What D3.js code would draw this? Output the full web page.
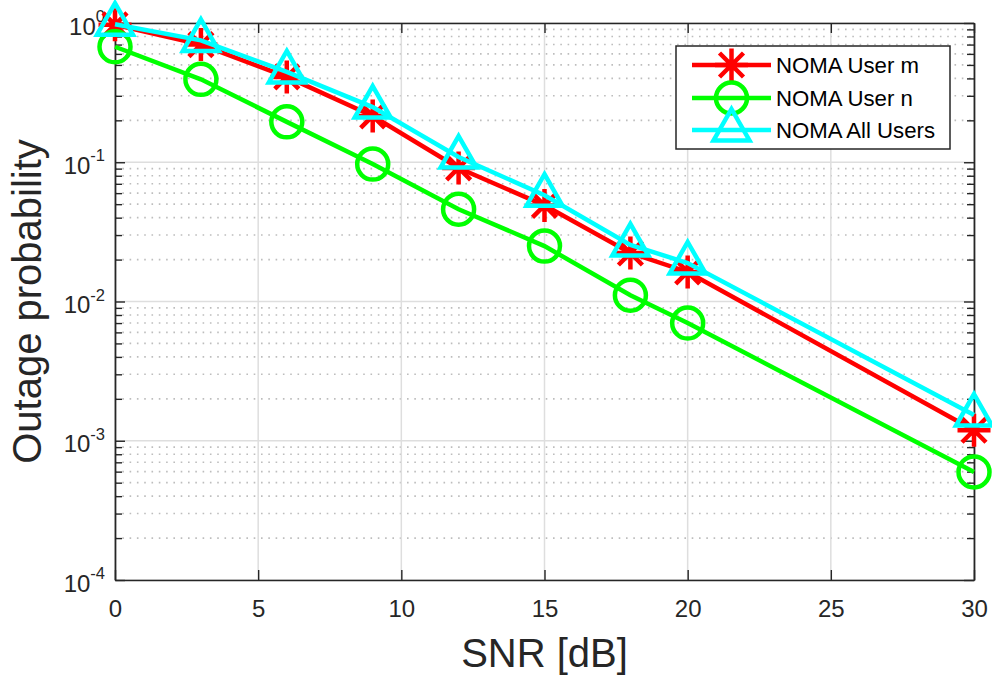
<!DOCTYPE html>
<html>
<head>
<meta charset="utf-8">
<script src="https://cdn.jsdelivr.net/npm/d3@7"></script>
<style>
  body { margin: 0; background: #fff; }
  svg { display: block; font-family: "Liberation Sans", Arial, sans-serif; }
</style>
</head>
<body>
<svg width="992" height="677"></svg>
<script>
var screen = {width: 992, height: 677}
var margin = {top: 23, right: 18, bottom: 97, left: 115};

// data
var snr = [0, 3, 6, 9, 12, 15, 18, 20, 30]
var userM = [0.97, 0.70, 0.41, 0.215, 0.091, 0.049, 0.0223, 0.0163, 0.00119]
var userN = [0.675, 0.394, 0.195, 0.097, 0.046, 0.025, 0.0111, 0.0070, 0.000597]
var allUsers = [0.98, 0.75, 0.445, 0.249, 0.109, 0.058, 0.0255, 0.0189, 0.00153]

var seriesNames = ["NOMA User m", "NOMA User n", "NOMA All Users"]
var seriesColors = ["#ff0000", "#00ff00", "#00ffff"]
var seriesMarkers = ["star", "circle", "triangle"]

var xTicks = [0, 5, 10, 15, 20, 25, 30]
var yTicks = [1, 1e-1, 1e-2, 1e-3, 1e-4]
var yTickExp = ["0", "-1", "-2", "-3", "-4"]

var width = screen.width - margin.left - margin.right;
var height = screen.height - margin.top - margin.bottom;

var yMinor = []
yTicks.slice(1).forEach(function(d) {
    for (var k = 2; k <= 9; k++) yMinor.push(d * k)
})

var svg = d3.select("svg")
var g = svg.append("g")
    .attr("transform", "translate(" + margin.left + "," + margin.top + ")")

var xScale = d3.scaleLinear().domain([0, 30]).range([0, width])
var yScale = d3.scaleLog().domain([1e-4, 1]).range([height, 0])

// grid
g.append("g").selectAll("line").data(yMinor).enter().append("line")
    .attr("x1", 0).attr("x2", width)
    .attr("y1", function(d) { return yScale(d) })
    .attr("y2", function(d) { return yScale(d) })
    .attr("stroke", "#bdbdbd").attr("stroke-width", 1.6)
    .attr("stroke-dasharray", "1.6,5.7")
g.append("g").selectAll("line").data(yTicks).enter().append("line")
    .attr("x1", 0).attr("x2", width)
    .attr("y1", function(d) { return yScale(d) })
    .attr("y2", function(d) { return yScale(d) })
    .attr("stroke", "#dedede").attr("stroke-width", 1.5)
g.append("g").selectAll("line").data(xTicks).enter().append("line")
    .attr("y1", 0).attr("y2", height)
    .attr("x1", function(d) { return xScale(d) })
    .attr("x2", function(d) { return xScale(d) })
    .attr("stroke", "#dedede").attr("stroke-width", 1.5)

// axes
var styleAxis = function(sel) {
    sel.selectAll("path").attr("stroke", "#262626").attr("stroke-width", 1.4)
    sel.selectAll("line").attr("stroke", "#262626").attr("stroke-width", 1.4)
    sel.selectAll("text").attr("fill", "#262626").style("font-size", "24px")
        .style("font-family", "'Liberation Sans', Arial, sans-serif")
}

g.append("g").attr("transform", "translate(0," + height + ")")
    .call(d3.axisBottom(xScale).tickValues(xTicks).tickSize(-10).tickSizeOuter(0).tickPadding(20))
    .call(styleAxis)
g.append("g")
    .call(d3.axisTop(xScale).tickValues(xTicks).tickSize(-10).tickSizeOuter(0).tickFormat(""))
    .call(styleAxis)

var yLeft = g.append("g")
    .call(d3.axisLeft(yScale).tickValues(yTicks).tickSize(-10).tickSizeOuter(0).tickPadding(10).tickFormat(function() { return "" }))
    .call(styleAxis)
yLeft.selectAll(".tick text").each(function(d, i) {
    var t = d3.select(this).attr("dy", "0.46em")
    t.append("tspan").text("10")
    t.append("tspan").attr("dy", "-0.75em").style("font-size", "16.5px").text(yTickExp[i])
})
g.append("g")
    .call(d3.axisLeft(yScale).tickValues(yMinor).tickSize(-7).tickSizeOuter(0).tickFormat(""))
    .call(styleAxis)
g.append("g").attr("transform", "translate(" + width + ",0)")
    .call(d3.axisRight(yScale).tickValues(yTicks).tickSize(-10).tickSizeOuter(0).tickFormat(""))
    .call(styleAxis)
g.append("g").attr("transform", "translate(" + width + ",0)")
    .call(d3.axisRight(yScale).tickValues(yMinor).tickSize(-7).tickSizeOuter(0).tickFormat(""))
    .call(styleAxis)

// labels
svg.append("text")
    .attr("x", margin.left + width / 2).attr("y", 667)
    .attr("text-anchor", "middle").attr("fill", "#262626")
    .style("font-size", "40px").text("SNR [dB]")
svg.append("text")
    .attr("transform", "translate(41," + (margin.top + height / 2) + ") rotate(-90)")
    .attr("text-anchor", "middle").attr("fill", "#262626")
    .style("font-size", "40px").text("Outage probability")

// markers
var drawMarker = function(sel, type, color, cx, cy) {
    if (type == "star") {
        var r = 16.5, d = 12
        var p = "M" + (cx - r) + "," + cy + "H" + (cx + r)
            + "M" + cx + "," + (cy - r) + "V" + (cy + r)
            + "M" + (cx - d) + "," + (cy - d) + "L" + (cx + d) + "," + (cy + d)
            + "M" + (cx - d) + "," + (cy + d) + "L" + (cx + d) + "," + (cy - d)
        sel.append("path").attr("d", p).attr("stroke", color).attr("stroke-width", 4.5).attr("fill", "none")
    } else if (type == "circle") {
        sel.append("circle").attr("cx", cx).attr("cy", cy).attr("r", 15.5)
            .attr("stroke", color).attr("stroke-width", 4.5).attr("fill", "none")
    } else {
        var p = "M" + cx + "," + (cy - 21) + "L" + (cx + 18) + "," + (cy + 10.5) + "L" + (cx - 18) + "," + (cy + 10.5) + "Z"
        sel.append("path").attr("d", p).attr("stroke", color).attr("stroke-width", 4.5)
            .attr("fill", "none").attr("stroke-linejoin", "miter")
    }
}

var line = d3.line()
    .x(function(d) { return xScale(d[0]) })
    .y(function(d) { return yScale(d[1]) })

var allSeries = [userM, userN, allUsers]
allSeries.forEach(function(vals, s) {
    var pts = snr.map(function(x, i) { return [x, vals[i]] })
    var sg = g.append("g")
    sg.append("path").datum(pts).attr("d", line)
        .attr("fill", "none").attr("stroke", seriesColors[s]).attr("stroke-width", 4.5)
    pts.forEach(function(d) {
        drawMarker(sg, seriesMarkers[s], seriesColors[s], xScale(d[0]), yScale(d[1]))
    })
})

// legend
var leg = svg.append("g")
leg.append("rect").attr("x", 676).attr("y", 46).attr("width", 274).attr("height", 103)
    .attr("fill", "#fff").attr("stroke", "#262626").attr("stroke-width", 1.5)
var legY = [65, 98, 130]
seriesNames.forEach(function(name, s) {
    leg.append("line").attr("x1", 692).attr("x2", 771).attr("y1", legY[s]).attr("y2", legY[s])
        .attr("stroke", seriesColors[s]).attr("stroke-width", 4.5)
    drawMarker(leg, seriesMarkers[s], seriesColors[s], 731.5, legY[s])
    leg.append("text").attr("x", 776).attr("y", legY[s]).attr("dy", "0.36em")
        .attr("fill", "#000").style("font-size", "22.2px").text(name)
})
</script>
</body>
</html>
